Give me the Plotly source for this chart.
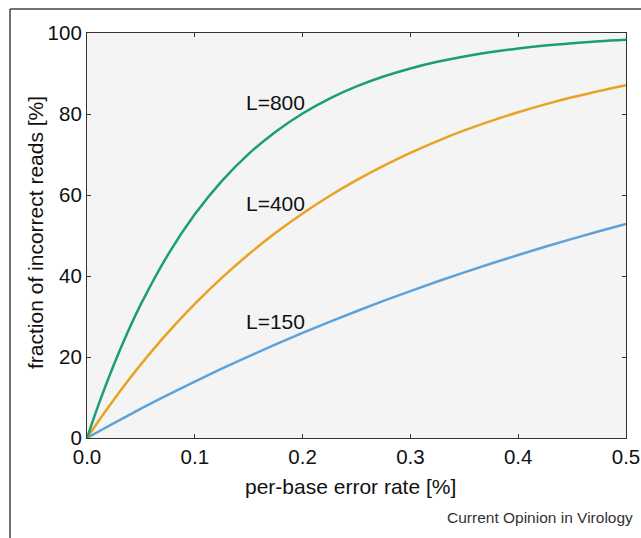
import plotly.graph_objects as go

# per-base error rate [%]
error_rate = [0.0, 0.0125, 0.025, 0.0375, 0.05, 0.075, 0.1, 0.125, 0.15, 0.175, 0.2, 0.225,
              0.25, 0.275, 0.3, 0.325, 0.35, 0.375, 0.4, 0.425, 0.45, 0.475, 0.5]
# fraction of incorrect reads [%]
frac_L150 = [0.0, 1.86, 3.68, 5.47, 7.23, 10.65, 13.94, 17.11, 20.16, 23.11, 25.94, 28.67,
             31.30, 33.84, 36.28, 38.63, 40.90, 43.08, 45.18, 47.21, 49.16, 51.04, 52.85]
frac_L400 = [0.0, 4.88, 9.52, 13.95, 18.17, 26.00, 33.10, 39.54, 45.37, 50.65, 55.42, 59.75,
             63.67, 67.21, 70.42, 73.32, 75.94, 78.31, 80.45, 82.38, 84.13, 85.70, 87.13]
frac_L800 = [0.0, 9.52, 18.13, 25.97, 33.04, 45.24, 55.25, 63.44, 70.15, 75.64, 80.13, 83.80,
             86.80, 89.25, 91.25, 92.88, 94.21, 95.29, 96.18, 96.90, 97.48, 97.96, 98.34]

labels = ["L=150", "L=400", "L=800"]
label_x = [0.146, 0.146, 0.146]
label_y = [28.7, 57.8, 82.8]
colors = ["#5fa2da", "#e8a323", "#1b9e77"]
x_ticks = [0.0, 0.1, 0.2, 0.3, 0.4, 0.5]
y_ticks = [0, 20, 40, 60, 80, 100]

FONT = "Liberation Sans, Arial, Helvetica, sans-serif"

fig = go.Figure()
for ys, c, name in zip([frac_L150, frac_L400, frac_L800], colors, labels):
    fig.add_trace(go.Scatter(x=error_rate, y=ys, mode="lines", name=name,
                             line=dict(color=c, width=2.5, shape="spline"),
                             showlegend=False))

for t, x, y in zip(labels, label_x, label_y):
    fig.add_annotation(x=x, y=y, xref="x", yref="y", text=t, showarrow=False,
                       xanchor="left", yanchor="middle",
                       font=dict(family=FONT, size=21, color="#111"))

W, H = 641, 538
L, T = 87, 33
R = W - L - 539
B = H - T - 405
pw, ph = W - L - R, H - T - B

def px(sx):
    return (sx - L) / pw

def py(sy):
    return (H - B - sy) / ph

# axis titles and credit
fig.add_annotation(x=px(350), y=py(486), xref="paper", yref="paper",
                   text="per-base error rate [%]", showarrow=False,
                   xanchor="center", yanchor="middle",
                   font=dict(family=FONT, size=21, color="#111"))
fig.add_annotation(x=px(35), y=py(233), xref="paper", yref="paper",
                   text="fraction of incorrect reads [%]", showarrow=False, textangle=-90,
                   xanchor="center", yanchor="middle",
                   font=dict(family=FONT, size=21, color="#111"))
fig.add_annotation(x=px(635), y=py(517), xref="paper", yref="paper",
                   text="Current Opinion in Virology", showarrow=False,
                   xanchor="right", yanchor="middle",
                   font=dict(family=FONT, size=15.5, color="#333"))

# outer frame (left and top edges; the rest runs off the page)
fig.add_shape(type="line", xref="paper", yref="paper",
              x0=px(10), x1=px(10), y0=py(700), y1=py(9),
              line=dict(color="#444", width=1.5), layer="below")
fig.add_shape(type="line", xref="paper", yref="paper",
              x0=px(10), x1=px(700), y0=py(9), y1=py(9),
              line=dict(color="#444", width=1.5), layer="below")

fig.update_xaxes(range=[0, 0.5], tickvals=x_ticks, tickformat=".1f", automargin=False,
                 ticklabeloverflow="allow",
                 showline=True, mirror="ticks", linecolor="#333", linewidth=1.2,
                 ticks="inside", ticklen=4, tickcolor="#333", showgrid=False, zeroline=False,
                 tickfont=dict(family=FONT, size=20.5, color="#111"))
fig.update_yaxes(range=[0, 100], tickvals=y_ticks, automargin=False,
                 ticklabeloverflow="allow",
                 showline=True, mirror="ticks", linecolor="#333", linewidth=1.2,
                 ticks="inside", ticklen=4, tickcolor="#333", showgrid=False, zeroline=False,
                 tickfont=dict(family=FONT, size=20.5, color="#111"))

fig.update_layout(width=W, height=H, margin=dict(l=L, r=R, t=T, b=B),
                  plot_bgcolor="#f4f4f4", paper_bgcolor="white",
                  font=dict(family=FONT))

fig.write_html("out.html", config={"responsive": False, "displayModeBar": False},
               post_script="document.body.style.margin='0';document.body.style.overflow='hidden';")
